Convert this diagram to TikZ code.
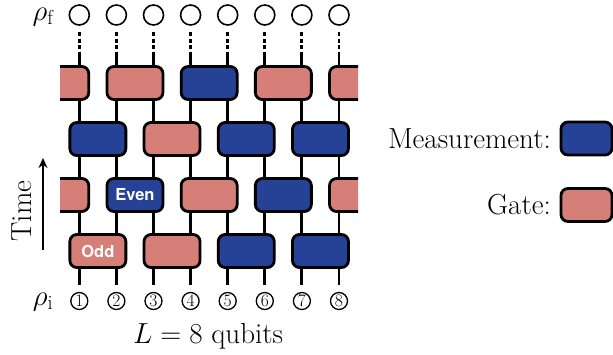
\documentclass[tikz,border=0pt]{standalone}
\usepackage{fix-cm}
\usepackage{fontspec}
\newfontfamily\tagfont{TeX Gyre Heros}
\usetikzlibrary{arrows.meta}
\definecolor{meas}{RGB}{38,66,150}
\definecolor{gate}{RGB}{214,127,121}
\tikzset{
  wire/.style={line width=2.9pt},
  dotwire/.style={line width=2.9pt, dash pattern=on 4pt off 2.5pt},
  blk/.style={draw=black, line width=2.8pt, rounded corners=7pt,
    minimum width=56pt, minimum height=33pt, inner sep=0pt},
  mbox/.style={blk, fill=meas},
  gbox/.style={blk, fill=gate},
  tag/.style={text=white, font=\tagfont\bfseries\fontsize{16.5}{16.5}\selectfont},
  final/.style={circle, draw, line width=1.6pt, fill=white, minimum size=20pt, inner sep=0pt},
  initial/.style={circle, draw, line width=1.3pt, minimum size=17pt, inner sep=0pt,
    font=\fontsize{17.5}{17.5}\selectfont},
  big/.style={font=\fontsize{29}{33}\selectfont, inner sep=0pt}
}
\begin{document}
\begin{tikzpicture}[x=1pt,y=-1pt]
\useasboundingbox (0,0) rectangle (613,354);

% qubit wires, final states and initial labels
\foreach \k in {1,...,8}{
  \pgfmathsetmacro{\qx}{79.3+37.1*(\k-1)}
  \node[final] (f\k) at (\qx,15) {};
  \node[initial] (n\k) at (\qx,301) {\k};
  \coordinate (top\k) at (\qx,32);
  \coordinate (mid\k) at (\qx,55);
  \coordinate (bot\k) at (\qx,285);
  \draw[dotwire] (top\k) -- (mid\k);
  \draw[wire] (mid\k) -- (bot\k);
}

% brick-wall layers of gates and measurements
\begin{scope}
\clip (60,0) rectangle (358,354);
% layer 4 (top)
\node[gbox] (a0) at (60.75,83) {};
\node[gbox] (a2) at (134.95,83) {};
\node[mbox] (a4) at (209.15,83) {};
\node[gbox] (a6) at (283.35,83) {};
\node[gbox] (a8) at (357.55,83) {};
% layer 3
\node[mbox] (b1) at (97.85,139) {};
\node[gbox] (b3) at (172.05,139) {};
\node[mbox] (b5) at (246.25,139) {};
\node[mbox] (b7) at (320.45,139) {};
% layer 2
\node[gbox] (c0) at (60.75,195) {};
\node[mbox] (c2) at (134.95,195) {};
\node[gbox] (c4) at (209.15,195) {};
\node[mbox] (c6) at (283.35,195) {};
\node[gbox] (c8) at (357.55,195) {};
% layer 1 (bottom)
\node[gbox] (d1) at (97.85,251) {};
\node[gbox] (d3) at (172.05,251) {};
\node[mbox] (d5) at (246.25,251) {};
\node[mbox] (d7) at (320.45,251) {};
\end{scope}
\node[tag] (even) at (c2) {Even};
\node[tag] (odd) at (d1) {Odd};

% state labels
\node[big] (rhof) at (43,17) {$\rho_{\mathrm{f}}$};
\node[big] (rhoi) at (43,302) {$\rho_{\mathrm{i}}$};

% time axis
\coordinate (tstart) at (43,250);
\coordinate (tend) at (43,158);
\draw[line width=2.2pt, -{Stealth[length=10pt,width=9pt]}] (tstart) -- (tend);
\node[big, rotate=90] (time) at (22,211) {Time};

% system size
\node[big] (size) at (208,336) {$L = 8$ qubits};

% legend
\node[mbox, minimum width=51pt] (lm) at (586.5,138.5) {};
\node[gbox, minimum width=51pt] (lg) at (586.5,205) {};
\node[big, anchor=east] (lmt) at (551,138.5) {Measurement:};
\node[big, anchor=east] (lgt) at (551,205) {Gate:};
\end{tikzpicture}
\end{document}
